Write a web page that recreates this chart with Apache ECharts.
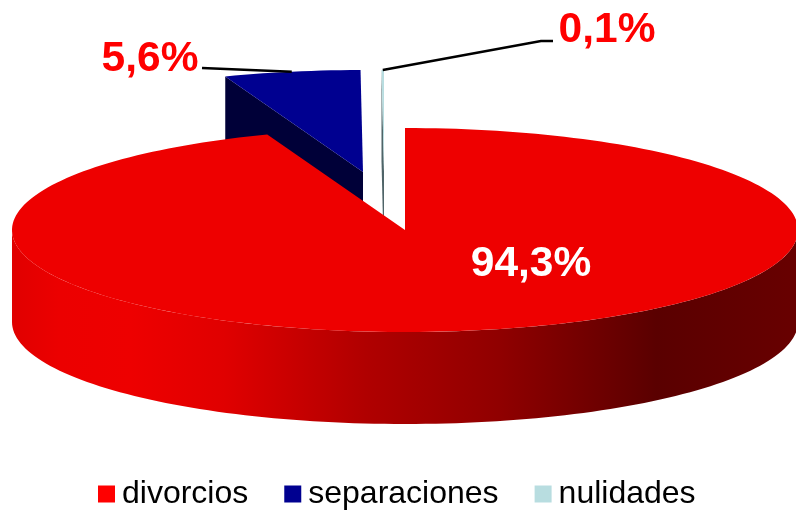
<!DOCTYPE html>
<html>
<head>
<meta charset="utf-8">
<style>html,body{margin:0;padding:0;background:#fff}#c{width:796px;height:511px}</style>
<script src="https://cdn.jsdelivr.net/npm/echarts@6/dist/echarts.min.js"></script>
</head>
<body>
<div id="c"></div>
<script>
var categories = ['divorcios', 'separaciones', 'nulidades'];
var values = [94.3, 5.6, 0.1];
var legendColors = ['#ff0000', '#000090', '#b8dde0'];

var total = values.reduce(function (a, b) { return a + b; }, 0);
var RX = 393, RY = 102, DEPTH = 92;
// per-slice look: centre of the top ellipse after explosion
var looks = [
  { cx: 405, cy: 230, top: '#ee0000', wall: '#cc0000' },
  { cx: 363, cy: 172, top: '#000090', wall: '#000038' },
  { cx: 384, cy: 172, top: '#b8dde0', wall: '#4f6468' }
];
var labelLooks = [
  { fill: '#ffffff', x: 531, y: 264 },
  { fill: '#ff0000', x: 150, y: 59, line: [[202, 68]] },
  { fill: '#ff0000', x: 607, y: 30, line: [[553, 41], [541, 41]] }
];

function pt(l, deg, dy) {
  var t = deg * Math.PI / 180;
  return [l.cx + RX * Math.sin(t), l.cy - RY * Math.cos(t) + (dy || 0)];
}
function arc(l, a, b, dy) {
  var n = Math.max(2, Math.ceil(Math.abs(b - a) / 1.5)), out = [];
  for (var i = 0; i <= n; i++) out.push(pt(l, a + (b - a) * i / n, dy));
  return out;
}
function startAngle(idx) {
  var s = 0;
  for (var i = 0; i < idx; i++) s += values[i];
  return s / total * 360;
}
function fmt(v) { return v.toFixed(1).replace('.', ',') + '%'; }

function makeRender(idx) {
  return function (params, api) {
    var v = api.value(0);
    var a = startAngle(idx), b = a + v / total * 360;
    var l = looks[idx], ch = [];
    var tip = [l.cx, l.cy];
    if (idx === 0) {
      // round outer wall, visible from the right edge round to the left edge
      var w0 = arc(l, 90, 270, 0), w1 = arc(l, 270, 90, DEPTH);
      ch.push({
        type: 'polygon', shape: { points: w0.concat(w1) },
        style: {
          fill: new echarts.graphic.LinearGradient(0, 0, 1, 0, [
            { offset: 0, color: '#e00000' },
            { offset: 0.06, color: '#ec0000' },
            { offset: 0.15, color: '#ee0000' },
            { offset: 0.27, color: '#e00000' },
            { offset: 0.45, color: '#b00000' },
            { offset: 0.62, color: '#900000' },
            { offset: 0.82, color: '#5a0000' },
            { offset: 1, color: '#680000' }
          ])
        }
      });
    } else {
      // cut face running from the slice's first radius down by the pie depth
      var p = pt(l, a);
      ch.push({
        type: 'polygon',
        shape: { points: [p, tip, [tip[0], tip[1] + DEPTH], [p[0], p[1] + DEPTH]] },
        style: { fill: l.wall }
      });
    }
    ch.push({
      type: 'polygon',
      shape: { points: [tip].concat(arc(l, a, b)) },
      style: { fill: l.top }
    });
    var ll = labelLooks[idx];
    if (ll.line) {
      var anchor = pt(l, (a + b) / 2);
      ch.push({
        type: 'polyline',
        shape: { points: ll.line.concat([anchor]) },
        style: { stroke: '#000', lineWidth: 2.5, fill: null }
      });
    }
    ch.push({
      type: 'text',
      style: {
        x: ll.x, y: ll.y, text: fmt(v), fill: ll.fill,
        font: 'bold 42.5px "Liberation Sans", Arial, sans-serif',
        textAlign: 'center', textVerticalAlign: 'middle'
      }
    });
    return { type: 'group', children: ch };
  };
}

// behind-to-front painting order: small exploded slices first
var order = [2, 1, 0];
var chart = echarts.init(document.getElementById('c'), null, { renderer: 'canvas' });
chart.setOption({
  animation: false,
  backgroundColor: '#fff',
  legend: {
    data: categories,
    left: 98, top: 478,
    padding: 0,
    itemWidth: 17, itemHeight: 17, itemGap: 36,
    icon: 'rect',
    selectedMode: false,
    textStyle: { fontFamily: '"Liberation Sans", Arial, sans-serif', fontSize: 32, color: '#000', padding: [0, 0, 0, 2] }
  },
  series: order.map(function (i) {
    return {
      type: 'custom',
      name: categories[i],
      coordinateSystem: 'none',
      itemStyle: { color: legendColors[i] },
      renderItem: makeRender(i),
      data: [[values[i]]]
    };
  })
});
</script>
</body>
</html>
